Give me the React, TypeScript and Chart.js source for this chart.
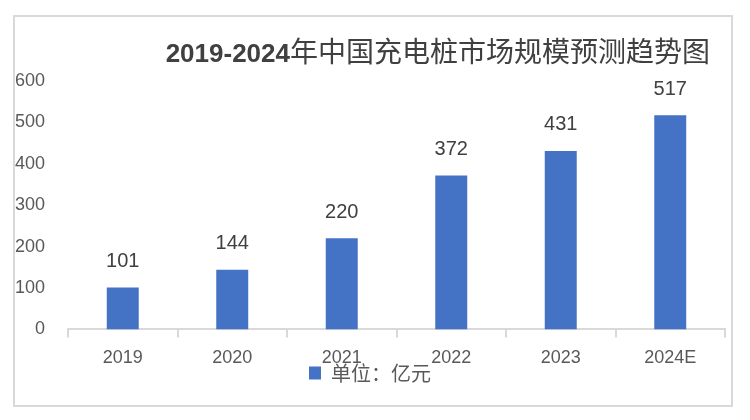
import React, { useEffect, useRef } from 'react';
import { Chart, registerables } from 'chart.js';

Chart.register(...registerables);

const categories = ['2019', '2020', '2021', '2022', '2023', '2024E'];
const values = [101, 144, 220, 372, 431, 517];
const yTicks = [0, 100, 200, 300, 400, 500, 600];
const seriesLabel = '单位：亿元';
const titleBold = '2019-2024';
const titleRest = '年中国充电桩市场规模预测趋势图';

const barColor = '#4472C4';
const textColor = '#595959';
const labelColor = '#404040';
const lineColor = '#d9d9d9';

const dataLabelPlugin = {
  id: 'dataLabels',
  afterDatasetsDraw(chart: any) {
    const ctx = chart.ctx;
    ctx.save();
    ctx.font = '20px "Liberation Sans", Arial, sans-serif';
    ctx.fillStyle = labelColor;
    ctx.textAlign = 'center';
    ctx.textBaseline = 'middle';
    chart.data.datasets.forEach((ds: any, di: number) => {
      const meta = chart.getDatasetMeta(di);
      meta.data.forEach((el: any, i: number) => {
        ctx.fillText(String(ds.data[i]), el.x, el.y - 26);
      });
    });
    ctx.restore();
  },
};

const titlePlugin = {
  id: 'mixedTitle',
  afterDraw(chart: any) {
    const ctx = chart.ctx;
    ctx.save();
    const boldFont = 'bold 26px "Liberation Sans", Arial, sans-serif';
    const cjkFont = '28px "Noto Sans CJK SC", sans-serif';
    ctx.font = cjkFont;
    const w2 = ctx.measureText(titleRest).width;
    ctx.font = boldFont;
    const w1 = ctx.measureText(titleBold).width;
    const right = chart.chartArea.right - 15;
    const baseline = 45;
    ctx.fillStyle = labelColor;
    ctx.textAlign = 'left';
    ctx.textBaseline = 'alphabetic';
    ctx.fillText(titleBold, right - w2 - w1, baseline);
    ctx.font = cjkFont;
    ctx.fillText(titleRest, right - w2, baseline);
    ctx.restore();
  },
};

// pull the legend up so it sits just under the axis labels, as in the reference
const legendShiftPlugin = {
  id: 'legendShift',
  afterLayout(chart: any) {
    const lg = chart.legend;
    if (lg) {
      lg.top -= 16;
      lg.bottom -= 16;
    }
  },
};

export default function App() {
  const canvasRef = useRef<HTMLCanvasElement | null>(null);

  useEffect(() => {
    document.body.style.margin = '0';
    const canvas = canvasRef.current;
    if (!canvas) return;
    const chart = new Chart(canvas, {
      type: 'bar',
      data: {
        labels: categories,
        datasets: [
          {
            label: seriesLabel,
            data: values,
            backgroundColor: barColor,
            borderWidth: 0,
            barPercentage: 0.292,
            categoryPercentage: 1,
          },
        ],
      },
      options: {
        animation: false,
        responsive: true,
        maintainAspectRatio: false,
        layout: { padding: { top: 64, right: 6, bottom: -4, left: 0 } },
        plugins: {
          title: { display: false },
          tooltip: { enabled: false },
          legend: {
            display: true,
            position: 'bottom',
            labels: {
              boxWidth: 12,
              boxHeight: 13,
              padding: 0,
              color: textColor,
              font: { family: '"Noto Sans CJK SC", sans-serif', size: 20 },
            },
          },
        },
        scales: {
          x: {
            offset: true,
            grid: {
              display: true,
              offset: true,
              drawOnChartArea: false,
              drawTicks: true,
              tickLength: 8,
              color: lineColor,
              lineWidth: 2,
            },
            border: { display: true, color: lineColor, width: 2 },
            ticks: {
              color: textColor,
              padding: 10,
              font: { family: '"Liberation Sans", Arial, sans-serif', size: 18 },
              maxRotation: 0,
            },
          },
          y: {
            min: 0,
            max: 600,
            grid: { display: false },
            border: { display: false },
            afterBuildTicks: (scale: any) => {
              scale.ticks = yTicks.map((v) => ({ value: v }));
            },
            ticks: {
              color: textColor,
              padding: 15,
              font: { family: '"Liberation Sans", Arial, sans-serif', size: 18 },
            },
            afterFit: (scale: any) => {
              scale.width = 53;
            },
          },
        },
      },
      plugins: [dataLabelPlugin, titlePlugin, legendShiftPlugin],
    });
    return () => chart.destroy();
  }, []);

  return (
    <div
      style={{
        position: 'absolute',
        left: 0,
        top: 0,
        width: 750,
        height: 420,
        background: '#fff',
      }}
    >
      <div
        style={{
          position: 'absolute',
          left: 13,
          top: 15,
          width: 720,
          height: 392,
          boxSizing: 'border-box',
          border: `2px solid ${lineColor}`,
          background: '#fff',
        }}
      >
        <div style={{ position: 'relative', width: 716, height: 388 }}>
          <canvas ref={canvasRef} />
        </div>
      </div>
    </div>
  );
}
